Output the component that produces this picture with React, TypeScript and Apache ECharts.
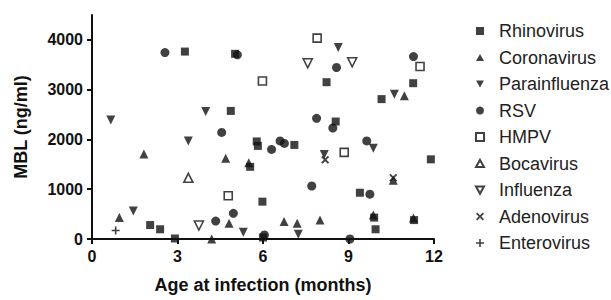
import React, { useEffect, useRef } from "react";
import * as echarts from "echarts";

const seriesNames = [
  "Rhinovirus",
  "Coronavirus",
  "Parainfluenza",
  "RSV",
  "HMPV",
  "Bocavirus",
  "Influenza",
  "Adenovirus",
  "Enterovirus",
];

const rhinovirus: [number, number][] = [
  [2.04, 280], [2.39, 195], [2.91, 10], [3.26, 3765], [5.02, 3720], [4.87, 2573],
  [5.78, 1960], [5.82, 1870], [5.55, 1450], [5.98, 750], [6.0, 30], [7.1, 1890],
  [8.23, 3150], [8.55, 2360], [9.4, 930], [9.95, 195], [9.9, 430], [10.16, 2810],
  [11.27, 3130], [11.89, 1600], [11.3, 380],
];
const coronavirus: [number, number][] = [
  [0.96, 430], [1.82, 1710], [4.69, 1620], [5.5, 1530], [4.81, 315], [4.2, 0],
  [6.74, 350], [7.2, 315], [8.0, 380], [9.87, 480], [10.96, 2880], [10.57, 1180],
  [11.28, 420],
];
const parainfluenza: [number, number][] = [
  [0.66, 2390], [1.45, 560], [3.99, 2560], [3.38, 1970], [5.31, 135], [7.24, 95],
  [8.64, 3845], [8.15, 1700], [10.61, 2910], [9.87, 1825],
];
const rsv: [number, number][] = [
  [2.56, 3745], [5.1, 3700], [4.55, 2140], [4.34, 360], [4.96, 515], [6.05, 80],
  [6.3, 1800], [6.6, 1970], [6.75, 1920], [7.88, 2425], [8.45, 2230], [8.58, 3445],
  [7.71, 1065], [9.05, 0], [9.64, 1970], [9.75, 900], [11.28, 3665],
];
const hmpv: [number, number][] = [
  [5.98, 3175], [4.78, 870], [7.9, 4035], [8.85, 1740], [11.51, 3465],
];
const bocavirus: [number, number][] = [[3.38, 1230]];
const influenza: [number, number][] = [[3.75, 270], [7.57, 3530], [9.13, 3550]];
const adenovirus: [number, number][] = [[8.18, 1590], [10.57, 1230]];
const enterovirus: [number, number][] = [[0.83, 170]];

const xTicks = [0, 3, 6, 9, 12];
const yTicks = [0, 1000, 2000, 3000, 4000];

const DOWN = "path://M0,0L10,0L5,9Z";
const UP = "path://M5,0L10,9L0,9Z";
const CROSS =
  "path://M0,1.6L1.6,0L5,3.4L8.4,0L10,1.6L6.6,5L10,8.4L8.4,10L5,6.6L1.6,10L0,8.4L3.4,5Z";
const PLUS = "path://M4,0H6V4H10V6H6V10H4V6H0V4H4Z";

export default function App() {
  const ref = useRef<HTMLDivElement>(null);
  useEffect(() => {
    if (!ref.current) return;
    const chart = echarts.init(ref.current, undefined, { renderer: "svg" });
    const filled = { color: "#111", borderColor: "#111", borderWidth: 0 };
    const open = { color: "#fff", borderColor: "#111", borderWidth: 1.6 };
    const mk = (name: string, data: [number, number][], symbol: string, size: number, style: any) => ({
      name,
      type: "scatter",
      data,
      symbol,
      symbolSize: size,
      itemStyle: style,
      emphasis: { disabled: true },
    });
    chart.setOption({
      animation: false,
      textStyle: { fontFamily: "Liberation Sans, Arial, sans-serif" },
      grid: { left: 92, right: 177, top: 15, bottom: 61 },
      xAxis: {
        type: "value",
        min: 0,
        max: 12,
        interval: 3,
        name: "Age at infection (months)",
        nameLocation: "middle",
        nameGap: 37,
        nameTextStyle: { fontSize: 18, fontWeight: "bold", color: "#111" },
        splitLine: { show: false },
        axisLine: { lineStyle: { color: "#111", width: 2 } },
        axisTick: { show: true, length: 5, lineStyle: { color: "#111", width: 2 }, customValues: xTicks },
        axisLabel: {
          fontSize: 16,
          fontWeight: "bold",
          color: "#111",
          margin: 9,
          customValues: xTicks,
          formatter: (v: number) => String(v),
        },
      },
      yAxis: {
        type: "value",
        min: 0,
        max: 4500,
        interval: 1000,
        name: "MBL (ng/ml)",
        nameLocation: "middle",
        nameGap: 62,
        nameRotate: 90,
        nameTextStyle: { fontSize: 18, fontWeight: "bold", color: "#111" },
        splitLine: { show: false },
        axisLine: { show: true, lineStyle: { color: "#111", width: 2 } },
        axisTick: { show: true, length: 5, lineStyle: { color: "#111", width: 2 }, customValues: yTicks },
        axisLabel: {
          fontSize: 16,
          fontWeight: "bold",
          color: "#111",
          margin: 9,
          customValues: yTicks,
          formatter: (v: number) => String(v),
        },
      },
      legend: {
        orient: "vertical",
        left: 470,
        top: 16,
        itemWidth: 8,
        itemHeight: 8,
        itemGap: 6.5,
        data: seriesNames,
        textStyle: { fontSize: 18, color: "#222", lineHeight: 20, padding: [0, 0, 0, 10] },
      },
      series: [
        mk(seriesNames[0], rhinovirus, "rect", 8, filled),
        mk(seriesNames[1], coronavirus, UP, 9, filled),
        mk(seriesNames[2], parainfluenza, DOWN, 9, filled),
        mk(seriesNames[3], rsv, "circle", 9, filled),
        mk(seriesNames[4], hmpv, "rect", 8, open),
        mk(seriesNames[5], bocavirus, UP, 9, open),
        mk(seriesNames[6], influenza, DOWN, 9, open),
        mk(seriesNames[7], adenovirus, CROSS, 8, filled),
        mk(seriesNames[8], enterovirus, PLUS, 8, filled),
      ],
    });
    return () => chart.dispose();
  }, []);
  return (
    <div
      ref={ref}
      style={{ position: "fixed", left: 0, top: 0, width: 611, height: 300, background: "#fff" }}
    />
  );
}
